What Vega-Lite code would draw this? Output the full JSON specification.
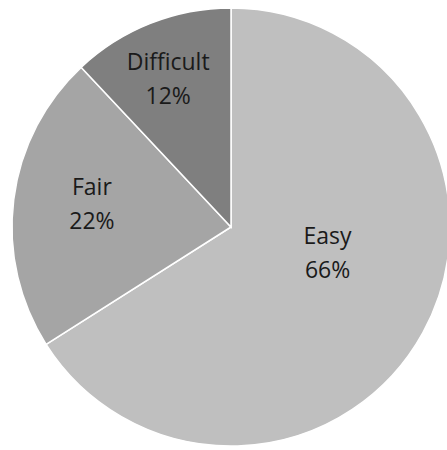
{
  "$schema": "https://vega.github.io/schema/vega-lite/v6.json",
  "width": 447,
  "height": 450,
  "autosize": {"type": "none"},
  "padding": 0,
  "background": "white",
  "view": {"stroke": null},
  "data": {
    "values": [
      {"category": "Easy", "value": 66},
      {"category": "Fair", "value": 22},
      {"category": "Difficult", "value": 12}
    ]
  },
  "encoding": {
    "theta": {"field": "value", "type": "quantitative", "stack": true},
    "order": {"field": "value", "sort": "descending"},
    "color": {
      "field": "category",
      "type": "nominal",
      "scale": {"domain": ["Easy", "Fair", "Difficult"], "range": ["#bfbfbf", "#a5a5a5", "#7f7f7f"]},
      "legend": null
    }
  },
  "layer": [
    {
      "mark": {"type": "arc", "outerRadius": 219, "stroke": "#ffffff", "strokeWidth": 1.5, "x": 231, "y": 227}
    },
    {
      "transform": [{"calculate": "[datum.category, datum.value + '%']", "as": "label"}],
      "mark": {
        "type": "text",
        "x": 231,
        "y": 227,
        "radius": {"expr": "datum.category === 'Easy' ? 100 : datum.category === 'Fair' ? 141 : 161"},
        "thetaOffset": {"expr": "datum.category === 'Easy' ? -0.24 : datum.category === 'Fair' ? 0.038 : -0.024"},
        "dy": -16,
        "font": "Open Sans",
        "fontSize": 23,
        "lineHeight": 34,
        "color": "#1a1a1a",
        "align": "center",
        "baseline": "middle"
      },
      "encoding": {
        "text": {"field": "label"},
        "color": {"value": "#1a1a1a"}
      }
    }
  ]
}
